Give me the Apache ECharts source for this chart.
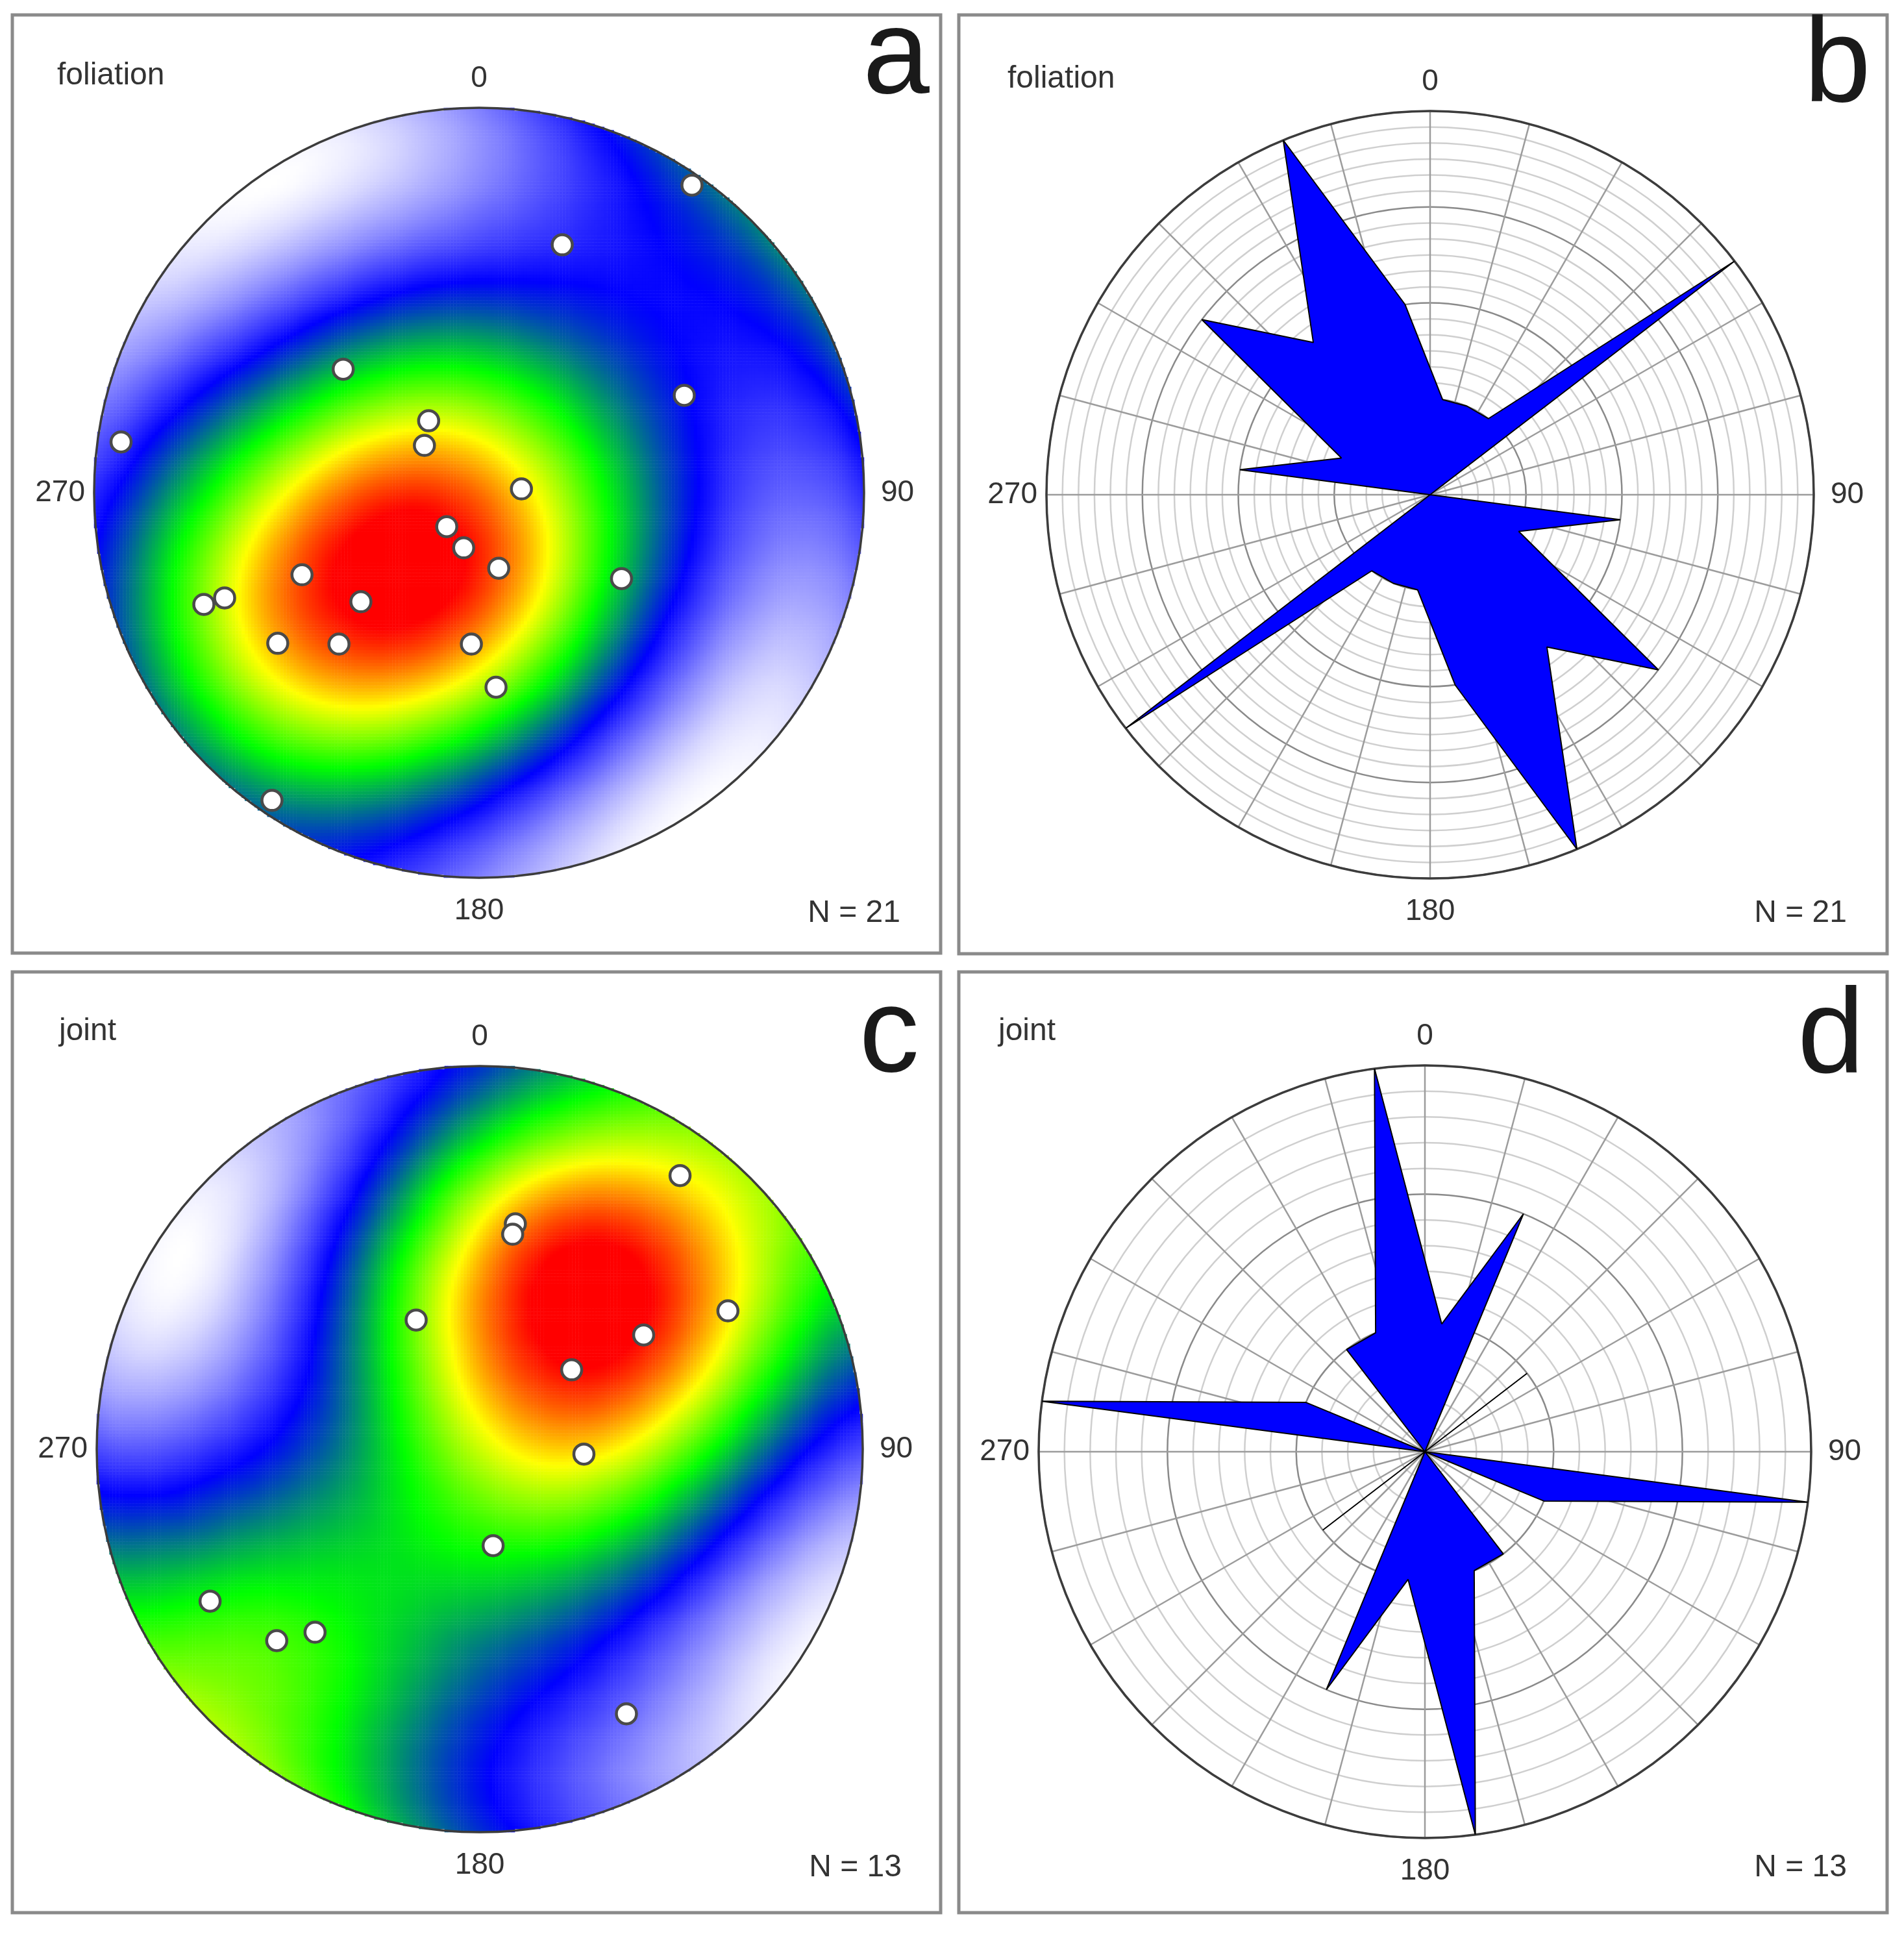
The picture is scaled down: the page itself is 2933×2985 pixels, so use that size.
<!DOCTYPE html>
<html>
<head>
    <meta charset="utf-8"/>
    <title>foliation / joint stereonets and rose diagrams</title>
    <script src="https://cdn.jsdelivr.net/npm/echarts@6/dist/echarts.min.js"></script>
    <style>
        html, body { margin: 0; padding: 0; background: #fff; }
        #main { width: 2933px; height: 2985px; }
    </style>
</head>
<body>
<div id="main"></div>
<script>
    // poles on the net, unit circle (x = east, y = north)
    let foliationX = [0.553, 0.216, -0.353, 0.533, -0.930, -0.131, -0.142, 0.110, -0.084, -0.040, 0.051,
        0.370, -0.460, -0.661, -0.715, -0.307, -0.523, -0.364, -0.020, 0.044, -0.538];
    let foliationY = [0.799, 0.644, 0.321, 0.253, 0.132, 0.187, 0.123, 0.010, -0.088, -0.143, -0.196,
        -0.223, -0.213, -0.273, -0.290, -0.283, -0.391, -0.393, -0.393, -0.505, -0.799];
    let jointX = [0.523, 0.093, 0.086, 0.648, -0.166, 0.428, 0.240, 0.272, 0.035, -0.704, -0.430, -0.530, 0.383];
    let jointY = [0.714, 0.588, 0.561, 0.361, 0.337, 0.298, 0.207, -0.013, -0.252, -0.397, -0.478, -0.500, -0.691];

    // rose diagrams: 15 degree bins (0-180, mirrored to 180-360)
    let binCentres = [7.5, 22.5, 37.5, 52.5, 67.5, 82.5, 97.5, 112.5, 127.5, 142.5, 157.5, 172.5];
    let foliationCounts = [1, 1, 1, 4, 0, 0, 2, 1, 3, 2, 4, 2];
    let jointCounts = [1, 2, 0, 1, 0, 0, 3, 1, 0, 1, 1, 3];

    let compassLabels = {0: 'n', 90: 'e', 180: 's', 270: 'w'};
    // colour ramp stops (relative density -> colour)
    let rampStops = [0, 0.3, 0.55, 0.75, 0.95, 1];
    let rampColors = [[255, 255, 255], [0, 0, 255], [0, 255, 0], [255, 255, 0], [255, 0, 0], [255, 0, 0]];

    const GRID_N = 240;
    const KAPPA = 3.5;
    const FONT = '"Liberation Sans", Arial, sans-serif';

    // panel layout (pixels)
    let pA = {cx: 738, cy: 759, r: 593};
    let pB = {cx: 2203, cy: 762, r: 591};
    let pC = {cx: 739, cy: 2232, r: 590};
    let pD = {cx: 2195, cy: 2236, r: 595};

    // evenly spaced palette for the continuous visualMap
    function palette(n) {
        let out = [];
        for (let i = 0; i < n; i++) {
            let t = i / (n - 1);
            let k = 1;
            while (k < rampStops.length - 1 && rampStops[k] < t) k++;
            let f = (t - rampStops[k - 1]) / (rampStops[k] - rampStops[k - 1]);
            let c = rampColors[k - 1].map(function (v, m) { return Math.round(v + (rampColors[k][m] - v) * f); });
            out.push('rgb(' + c.join(',') + ')');
        }
        return out;
    }
    let densityColors = palette(61);

    // lower hemisphere, equal area net -> unit vector
    function toVector(x, y) {
        let r = Math.sqrt(x * x + y * y);
        if (r === 0) return [0, 0, -1];
        let theta = 2 * Math.asin(Math.min(1, r / Math.SQRT2));
        let s = Math.sin(theta);
        return [s * x / r, s * y / r, -Math.cos(theta)];
    }

    function densityCells(xs, ys) {
        let poles = xs.map(function (x, i) { return toVector(x, ys[i]); });
        let cells = [];
        for (let i = 0; i < GRID_N; i++) {
            for (let j = 0; j < GRID_N; j++) {
                let x = -1 + (i + 0.5) * 2 / GRID_N;
                let y = -1 + (j + 0.5) * 2 / GRID_N;
                if (x * x + y * y > 1) continue;
                let v = toVector(x, y);
                let d = 0;
                for (let p of poles) {
                    let c = Math.abs(v[0] * p[0] + v[1] * p[1] + v[2] * p[2]);
                    d += Math.exp(KAPPA * (c - 1));
                }
                cells.push([i, j, d]);
            }
        }
        return cells;
    }

    function range(cells) {
        let mn = Infinity, mx = -Infinity;
        cells.forEach(function (c) { mn = Math.min(mn, c[2]); mx = Math.max(mx, c[2]); });
        return [mn, mx];
    }

    function roseData(counts) {
        let pts = [];
        for (let k = 0; k < 24; k++) {
            pts.push([counts[k % 12], binCentres[k % 12] + (k >= 12 ? 180 : 0)]);
        }
        pts.push(pts[0]);
        return pts;
    }

    let cats = [];
    for (let i = 0; i < GRID_N; i++) cats.push(i);

    let cellsA = densityCells(foliationX, foliationY);
    let cellsC = densityCells(jointX, jointY);
    let rangeA = range(cellsA), rangeC = range(cellsC);

    function gridOf(p) {
        return {left: p.cx - p.r, top: p.cy - p.r, width: 2 * p.r, height: 2 * p.r, show: false};
    }

    function compassLabel(v) {
        let k = compassLabels[v];
        return k ? '{' + k + '|' + v + '}' : '';
    }

    let labelText = {fontSize: 46, color: '#333', fontFamily: FONT};

    function angleAxisOf(idx, withSpokes, z) {
        return {
            polarIndex: idx, type: 'value', min: 0, max: 360, interval: withSpokes ? 15 : 90,
            startAngle: 90, clockwise: true, z: z,
            axisLine: {lineStyle: {color: '#3c3c3c', width: 3.5}},
            axisTick: {show: false},
            axisLabel: {
                margin: 14, fontSize: 46, color: '#333', fontFamily: FONT, formatter: compassLabel,
                rich: {
                    n: Object.assign({padding: [0, 0, 8, 0]}, labelText),
                    e: Object.assign({padding: [0, 0, 0, 12]}, labelText),
                    s: Object.assign({padding: [14, 0, 0, 0]}, labelText),
                    w: Object.assign({padding: [0, 0, 0, 0]}, labelText)
                }
            },
            splitLine: {show: withSpokes, lineStyle: {color: '#9c9c9c', width: 2.5}}
        };
    }

    function roseRadiusAxis(idx, max, minor) {
        return {
            polarIndex: idx, type: 'value', min: 0, max: max, interval: 1,
            axisLine: {show: false}, axisTick: {show: false}, axisLabel: {show: false},
            splitLine: {show: true, lineStyle: {color: '#8a8a8a', width: 2.5}},
            minorTick: {show: false, splitNumber: minor},
            minorSplitLine: {show: true, lineStyle: {color: '#cfcfcf', width: 2.5}}
        };
    }

    function frame(x, y, w, h) {
        return {type: 'rect', z: 100, silent: true, shape: {x: x, y: y, width: w, height: h},
            style: {fill: 'none', stroke: '#8a8a8a', lineWidth: 5}};
    }

    function label(text, x, y, size, align) {
        return {type: 'text', z: 100, silent: true, x: x, y: y,
            style: {text: text, fill: '#333', font: size + 'px ' + FONT, textAlign: align, textVerticalAlign: 'middle'}};
    }

    function bigLetter(text, x, y) {
        return {type: 'text', z: 100, silent: true, x: x, y: y,
            style: {text: text, fill: '#1a1a1a', font: '185px ' + FONT, textAlign: 'right', textVerticalAlign: 'middle'}};
    }

    let myChart = echarts.init(document.getElementById('main'));
    let option = {
        animation: false,
        backgroundColor: '#ffffff',
        grid: [gridOf(pA), gridOf(pC)],
        xAxis: [
            {gridIndex: 0, type: 'category', data: cats, show: false},
            {gridIndex: 0, type: 'value', min: -1, max: 1, show: false},
            {gridIndex: 1, type: 'category', data: cats, show: false},
            {gridIndex: 1, type: 'value', min: -1, max: 1, show: false}
        ],
        yAxis: [
            {gridIndex: 0, type: 'category', data: cats, show: false},
            {gridIndex: 0, type: 'value', min: -1, max: 1, show: false},
            {gridIndex: 1, type: 'category', data: cats, show: false},
            {gridIndex: 1, type: 'value', min: -1, max: 1, show: false}
        ],
        polar: [
            {center: [pA.cx, pA.cy], radius: pA.r},
            {center: [pB.cx, pB.cy], radius: pB.r},
            {center: [pC.cx, pC.cy], radius: pC.r},
            {center: [pD.cx, pD.cy], radius: pD.r}
        ],
        angleAxis: [
            angleAxisOf(0, false, 5),
            angleAxisOf(1, true, 0),
            angleAxisOf(2, false, 5),
            angleAxisOf(3, true, 0)
        ],
        radiusAxis: [
            {polarIndex: 0, type: 'value', min: 0, max: 1, show: false},
            roseRadiusAxis(1, 4, 6),
            {polarIndex: 2, type: 'value', min: 0, max: 1, show: false},
            roseRadiusAxis(3, 3, 5)
        ],
        visualMap: [
            {type: 'continuous', seriesIndex: 0, dimension: 2, min: rangeA[0], max: rangeA[1], show: false,
                inRange: {color: densityColors}},
            {type: 'continuous', seriesIndex: 2, dimension: 2, min: rangeC[0], max: rangeC[1], show: false,
                inRange: {color: densityColors}}
        ],
        graphic: [
            frame(19, 23, 1430, 1445),
            frame(1477, 23, 1430, 1446),
            frame(19, 1497, 1430, 1449),
            frame(1477, 1497, 1430, 1449),
            label('foliation', 88, 117, 48, 'left'),
            label('foliation', 1552, 122, 48, 'left'),
            label('joint', 91, 1589, 48, 'left'),
            label('joint', 1538, 1589, 48, 'left'),
            label('N = 21', 1387, 1407, 48, 'right'),
            label('N = 21', 2845, 1407, 48, 'right'),
            label('N = 13', 1389, 2877, 48, 'right'),
            label('N = 13', 2845, 2877, 48, 'right'),
            bigLetter('a', 1432, 92),
            bigLetter('b', 2882, 106),
            bigLetter('c', 1416, 1599),
            bigLetter('d', 2872, 1601)
        ],
        series: [
            {
                type: 'heatmap', xAxisIndex: 0, yAxisIndex: 0, data: cellsA, z: 2,
                progressive: 0, silent: true, emphasis: {disabled: true}
            },
            {
                type: 'scatter', xAxisIndex: 1, yAxisIndex: 1, z: 6, symbolSize: 31, silent: true,
                data: foliationX.map(function (x, i) { return [x, foliationY[i]]; }),
                itemStyle: {color: '#ffffff', borderColor: '#4a4a4a', borderWidth: 4.5, opacity: 1}
            },
            {
                type: 'heatmap', xAxisIndex: 2, yAxisIndex: 2, data: cellsC, z: 2,
                progressive: 0, silent: true, emphasis: {disabled: true}
            },
            {
                type: 'scatter', xAxisIndex: 3, yAxisIndex: 3, z: 6, symbolSize: 31, silent: true,
                data: jointX.map(function (x, i) { return [x, jointY[i]]; }),
                itemStyle: {color: '#ffffff', borderColor: '#4a4a4a', borderWidth: 4.5, opacity: 1}
            },
            {
                type: 'line', coordinateSystem: 'polar', polarIndex: 1, data: roseData(foliationCounts),
                symbol: 'none', silent: true, z: 3,
                lineStyle: {color: '#000', width: 2},
                areaStyle: {color: '#0000ff', opacity: 1}
            },
            {
                type: 'line', coordinateSystem: 'polar', polarIndex: 3, data: roseData(jointCounts),
                symbol: 'none', silent: true, z: 3,
                lineStyle: {color: '#000', width: 2},
                areaStyle: {color: '#0000ff', opacity: 1}
            }
        ]
    };
    myChart.setOption(option);
</script>
</body>
</html>
